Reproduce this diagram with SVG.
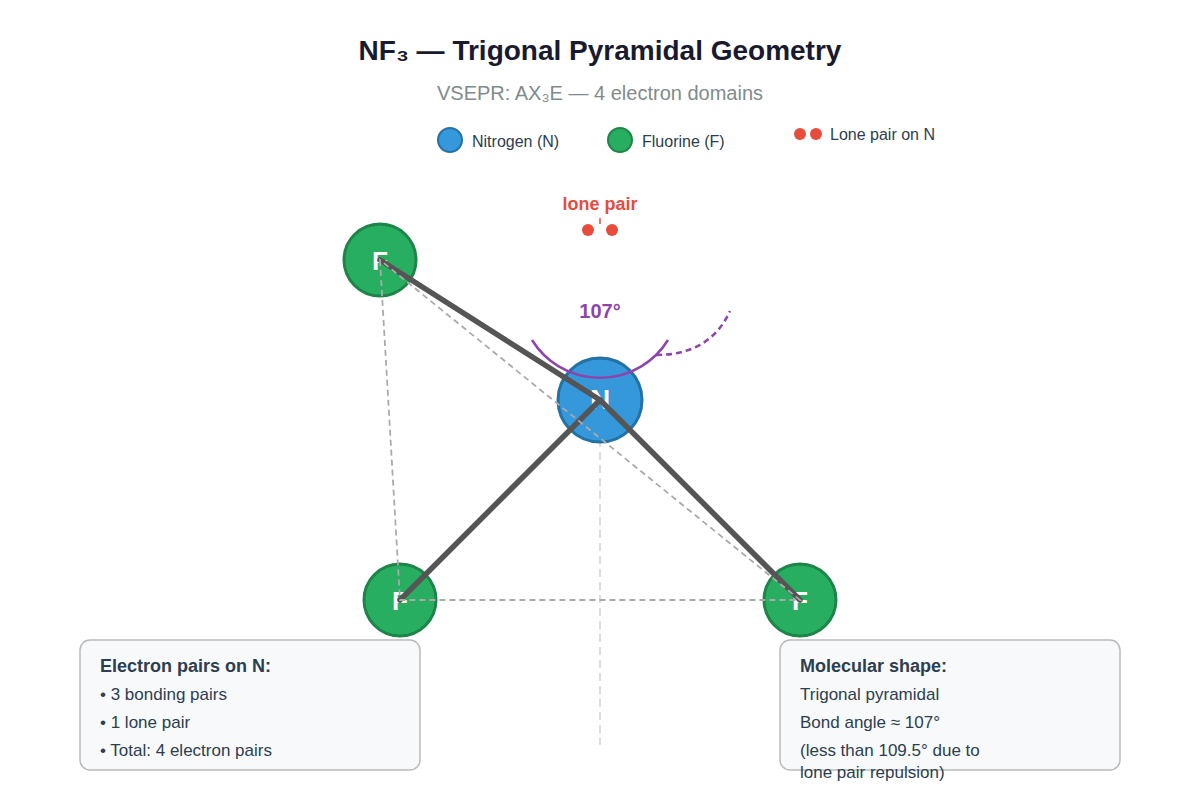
<svg xmlns="http://www.w3.org/2000/svg" width="1200" height="800" viewBox="0 0 1200 800">
<style>
text{font-family:"Liberation Sans",Arial,sans-serif}
.atomF{fill:#27ae60;stroke:#1e8449;stroke-width:3}
.atomN{fill:#3498db;stroke:#2471a3;stroke-width:3}
.legN{fill:#3498db;stroke:#2471a3;stroke-width:2}
.legF{fill:#27ae60;stroke:#1e8449;stroke-width:2}
.sym{fill:#fff;font-weight:700;font-size:26px;text-anchor:middle}
.bond{stroke:#555;stroke-width:5.5;stroke-linecap:round;fill:none}
.base{stroke:#aaa;stroke-width:1.8;stroke-dasharray:6 4;fill:none}
.lp{fill:#e74c3c}
.box{fill:#f8f9fa;stroke:#bbb;stroke-width:1.5}
.t{fill:#2c3e50;font-size:17px}
.h{fill:#2c3e50;font-size:18px;font-weight:700}
.leg{fill:#2c3e50;font-size:16px}
</style>
<rect width="1200" height="800" fill="#fff"/>
<text x="600" y="60" font-size="28" font-weight="700" fill="#1a1a2e" text-anchor="middle">NF₃ — Trigonal Pyramidal Geometry</text>
<text x="600" y="100" font-size="20" fill="#7f8c8d" text-anchor="middle">VSEPR: AX₃E — 4 electron domains</text>
<g id="legend">
<circle class="legN" cx="450" cy="140" r="12"/>
<text class="leg" x="472" y="147">Nitrogen (N)</text>
<circle class="legF" cx="620" cy="140" r="12"/>
<text class="leg" x="642" y="147">Fluorine (F)</text>
<circle class="lp" cx="800" cy="134" r="6"/>
<circle class="lp" cx="816" cy="134" r="6"/>
<text class="leg" x="830" y="140">Lone pair on N</text>
</g>
<line id="axis" x1="600" y1="400" x2="600" y2="745" stroke="#ddd" stroke-width="2" stroke-dasharray="8 5"/>
<g id="atom-n"><circle class="atomN" cx="600" cy="400" r="42"/><text class="sym" x="600" y="409" style="font-size:28px">N</text></g>
<g id="atom-f1"><circle class="atomF" cx="380" cy="260" r="36"/><text class="sym" x="380" y="270">F</text></g>
<g id="atom-f2"><circle class="atomF" cx="400" cy="600" r="36"/><text class="sym" x="400" y="610">F</text></g>
<g id="atom-f3"><circle class="atomF" cx="800" cy="600" r="36"/><text class="sym" x="800" y="610">F</text></g>
<g id="connectors">
<line class="bond" x1="600" y1="400" x2="380" y2="260"/>
<line class="bond" x1="600" y1="400" x2="400" y2="600"/>
<line class="bond" x1="600" y1="400" x2="800" y2="600"/>
<path class="base" d="M380 260L400 600L800 600Z"/>
<line x1="600" y1="218" x2="600" y2="224" stroke="#e74c3c" stroke-width="1.5"/>
<path d="M532 340A80 80 0 0 0 668 340" fill="none" stroke="#8e44ad" stroke-width="2.5"/>
<path d="M656 355Q710 355 730 311" fill="none" stroke="#8e44ad" stroke-width="2.5" stroke-dasharray="6 4"/>
</g>
<g id="lone-pair">
<text x="600" y="210" font-size="18" font-weight="700" fill="#e74c3c" text-anchor="middle">lone pair</text>
<circle class="lp" cx="588" cy="230" r="6"/>
<circle class="lp" cx="612" cy="230" r="6"/>
</g>
<text id="angle" x="600" y="318" font-size="20" font-weight="700" fill="#8e44ad" text-anchor="middle">107°</text>
<g id="info-left">
<rect class="box" x="80" y="640" width="340" height="130" rx="10"/>
<text class="h" x="100" y="672">Electron pairs on N:</text>
<text class="t" x="100" y="700">• 3 bonding pairs</text>
<text class="t" x="100" y="728">• 1 lone pair</text>
<text class="t" x="100" y="756">• Total: 4 electron pairs</text>
</g>
<g id="info-right">
<rect class="box" x="780" y="640" width="340" height="130" rx="10"/>
<text class="h" x="800" y="672">Molecular shape:</text>
<text class="t" x="800" y="700">Trigonal pyramidal</text>
<text class="t" x="800" y="728">Bond angle ≈ 107°</text>
<text class="t" x="800" y="756">(less than 109.5° due to</text>
<text class="t" x="800" y="778">lone pair repulsion)</text>
</g>
</svg>
